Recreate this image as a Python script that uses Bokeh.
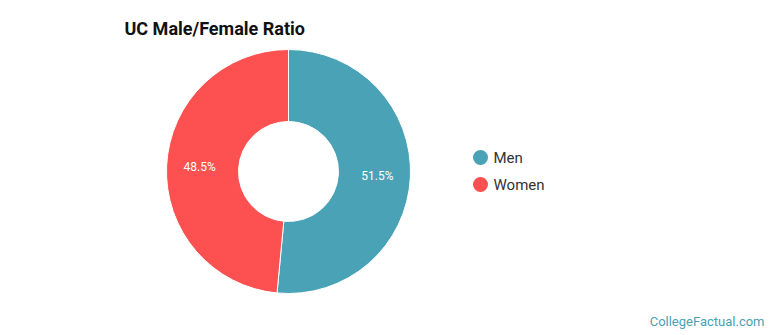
import numpy as np
from bokeh.plotting import figure
from bokeh.models import Range1d, ColumnDataSource
from bokeh.core.properties import value
from bokeh.embed import file_html
from bokeh.resources import INLINE

title = "UC Male/Female Ratio"
categories = ["Men", "Women"]
shares = [51.5, 48.5]
colors = ["#49a2b5", "#fd5151"]
credit = "CollegeFactual.com"

W, H = 770, 335
p = figure(width=W, height=H, output_backend="svg", toolbar_location=None,
           x_range=Range1d(0, W), y_range=Range1d(0, H), min_border=0)
p.axis.visible = False
p.grid.visible = False
p.outline_line_color = None
p.background_fill_color = "white"
p.border_fill_color = "white"

cx, cy = 288, H - 171
r_in, r_out = 50, 122

fr = np.array(shares) / sum(shares)
cum = np.concatenate([[0], np.cumsum(fr)])
start = np.pi / 2 - 2 * np.pi * cum[:-1]
end = np.pi / 2 - 2 * np.pi * cum[1:]
mid = (start + end) / 2
lr = 89

src = ColumnDataSource(dict(start=start, end=end, color=colors, cat=categories,
                            lx=cx + lr * np.cos(mid), ly=cy + lr * np.sin(mid),
                            lbl=[f"{s:.1f}%" for s in shares]))
p.annular_wedge(x=cx, y=cy, inner_radius=r_in, outer_radius=r_out,
                start_angle="start", end_angle="end", direction="clock",
                fill_color="color", line_color="white", line_width=1, source=src)
p.text(x="lx", y="ly", text="lbl", source=src, text_color="white",
       text_font=value("Roboto"), text_font_size="12px",
       text_align="center", text_baseline="middle")

# legend
ly = H - np.array([157, 184])
leg = ColumnDataSource(dict(x=[480] * len(categories), y=ly, color=colors,
                            cat=categories, tx=[493] * len(categories)))
p.scatter(x="x", y="y", size=15, fill_color="color", line_color=None, source=leg)
p.text(x="tx", y="y", text="cat", source=leg, text_color="#333333",
       text_font=value("Roboto"), text_font_size="15px",
       text_align="left", text_baseline="middle")

p.text(x=[124], y=[H - 28], text=[title], text_color="#111111",
       text_font=value("Roboto"), text_font_size="18px", text_font_style="bold",
       text_align="left", text_baseline="middle")
p.text(x=[764], y=[H - 321], text=[credit], text_color="#4a9fb5",
       text_font=value("Roboto"), text_font_size="13px",
       text_align="right", text_baseline="middle")

open("out.html", "w").write(file_html(p, INLINE))
